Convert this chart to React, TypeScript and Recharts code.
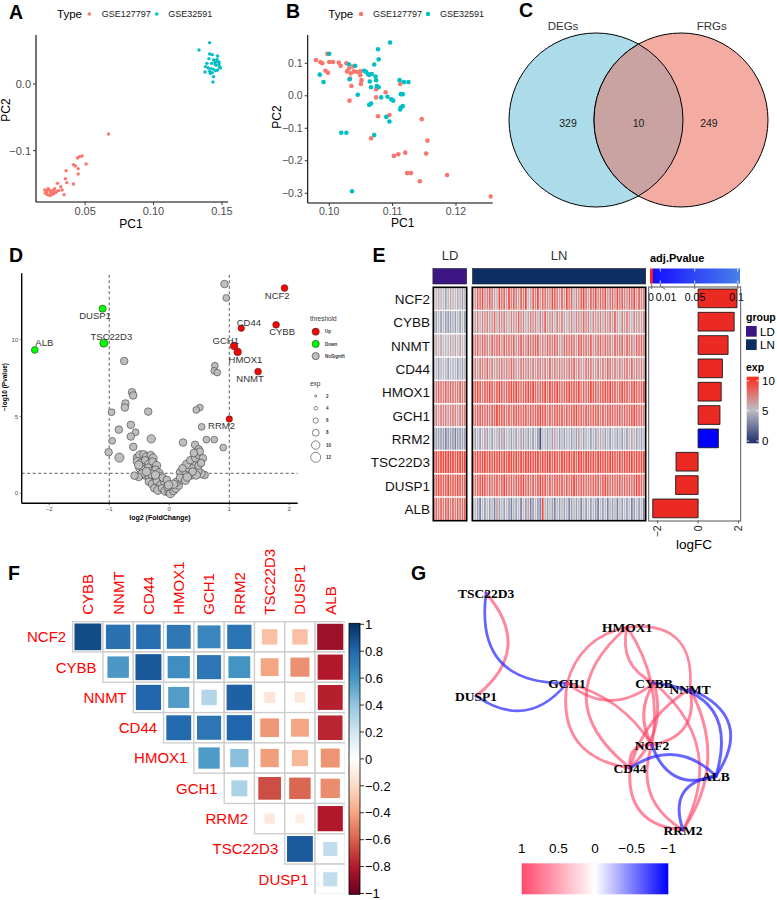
import React from 'react'
import {
  ScatterChart,
  Scatter,
  BarChart,
  Bar,
  Cell,
  XAxis,
  YAxis,
  ReferenceLine
} from 'recharts'

const FONT = 'Arial, "Liberation Sans", Helvetica, sans-serif'
const SERIF = '"Liberation Serif", "Times New Roman", Times, serif'
const MINUS = '\u2212'

/* ---------- A / B: PCA of the two cohorts ---------- */
const pcaTypes = ['GSE127797', 'GSE32591']
const pcaColors = ['#F8766D', '#00BFC4']

const pcaRaw127797 = [
  [0.0671, -0.075], [0.0459, -0.109], [0.0478, -0.108], [0.0444, -0.111], [0.0507, -0.12],
  [0.0415, -0.121], [0.0429, -0.123], [0.0449, -0.127], [0.0449, -0.135], [0.0361, -0.13],
  [0.0356, -0.142], [0.0366, -0.148], [0.0415, -0.15], [0.0298, -0.149], [0.0322, -0.154],
  [0.0332, -0.159], [0.0346, -0.166], [0.0268, -0.159], [0.0278, -0.157], [0.0244, -0.16],
  [0.0249, -0.163], [0.0259, -0.164], [0.0234, -0.158], [0.022, -0.162], [0.021, -0.164],
  [0.0215, -0.16], [0.0225, -0.166], [0.0239, -0.167], [0.0249, -0.167], [0.0268, -0.165],
  [0.0283, -0.163], [0.0293, -0.161], [0.0307, -0.16], [0.0205, -0.159], [0.0229, -0.157],
  [0.0263, -0.161]
]
const pcaRaw32591 = [
  [0.141, 0.062], [0.1332, 0.051], [0.141, 0.045], [0.1429, 0.044], [0.1468, 0.042],
  [0.1405, 0.038], [0.1439, 0.036], [0.1463, 0.034], [0.1478, 0.033], [0.1424, 0.031],
  [0.1449, 0.03], [0.1459, 0.028], [0.1483, 0.026], [0.138, 0.026], [0.14, 0.024],
  [0.142, 0.023], [0.1439, 0.022], [0.1468, 0.021], [0.1488, 0.024], [0.1376, 0.018],
  [0.141, 0.019], [0.1429, 0.017], [0.1454, 0.02], [0.1439, 0.011], [0.1415, 0.016],
  [0.1434, 0.003], [0.139, 0.031], [0.1449, 0.033], [0.1463, 0.037], [0.1478, 0.03]
]
const pcaCorr127797 = [
  [0.0979, 0.11], [0.0986, 0.104], [0.0989, 0.1], [0.0997, 0.129], [0.1, 0.104],
  [0.0994, 0.077], [0.0998, 0.071], [0.1006, 0.104], [0.1015, 0.102], [0.1018, 0.092],
  [0.1027, 0.1], [0.1028, 0.075], [0.1031, 0.084], [0.1034, 0.069], [0.1037, 0.09],
  [0.1039, 0.075], [0.1044, 0.073], [0.1033, 0.053], [0.1035, 0.03], [0.1032, -0.015],
  [0.1049, 0.075], [0.1049, 0.063], [0.1051, 0.048], [0.105, 0.036], [0.1066, -0.131],
  [0.1074, 0.02], [0.1074, -0.005], [0.1077, -0.063], [0.1089, 0.011], [0.1095, -0.059],
  [0.1112, 0.036], [0.1146, -0.072], [0.1155, -0.138], [0.1153, -0.178], [0.1102, -0.185],
  [0.1109, -0.18], [0.112, -0.175], [0.1123, -0.238], [0.1129, -0.238], [0.1143, -0.263],
  [0.1186, -0.244], [0.1255, -0.31]
]
const pcaCorr32591 = [
  [0.1, 0.129], [0.0985, 0.065], [0.0991, 0.042], [0.1031, 0.097], [0.1041, 0.092],
  [0.1032, 0.051], [0.1055, 0.077], [0.1058, 0.074], [0.1061, 0.067], [0.1063, 0.064],
  [0.1064, 0.044], [0.1067, 0.067], [0.1071, 0.096], [0.1077, 0.143], [0.1078, 0.112],
  [0.1073, 0.059], [0.1074, 0.048], [0.1075, 0.03], [0.1066, 0.026], [0.1066, -0.024],
  [0.1063, -0.028], [0.1045, 0.003], [0.1082, -0.005], [0.1078, 0.026], [0.1092, -0.003],
  [0.1096, 0.164], [0.1098, -0.011], [0.1101, -0.015], [0.1111, 0.048], [0.1118, 0.042],
  [0.1125, 0.042], [0.1113, 0.005], [0.1116, 0.005], [0.1113, -0.036], [0.1116, -0.032],
  [0.1112, -0.042], [0.109, -0.065], [0.1095, -0.079], [0.1019, -0.114], [0.1027, -0.114],
  [0.1071, -0.121], [0.1036, -0.294]
]

/* ---------- C: Venn ---------- */
const vennSets = ['DEGs', 'FRGs']
const vennCounts = ['329', '10', '249']

/* ---------- D: volcano (log2FC, -log10 P, exp) ---------- */
const volcanoNoSig = [
  [0.92, 13.6, 9], [0.95, 12.7, 8], [-0.75, 8.6, 9], [0.76, 8.3, 8], [0.75, 7.96, 8], [0.8, 7.85, 8],
  [-0.62, 6.57, 9], [-0.6, 6.36, 9], [-0.73, 5.84, 9], [-0.74, 5.57, 9], [-0.96, 5.27, 8], [-0.35, 5.31, 9],
  [0.51, 5.57, 8], [0.45, 5.42, 8], [-0.64, 4.45, 9], [-0.84, 4.14, 9], [-0.56, 3.97, 8], [-0.64, 3.69, 9],
  [0.54, 4.32, 8], [-0.95, 3.41, 8], [-0.6, 3.02, 9], [-0.3, 3.54, 10], [0.23, 3.3, 9], [0.62, 3.49, 8],
  [0.75, 3.49, 8], [0.9, 2.97, 8], [-1.01, 2.67, 9], [-0.83, 2.32, 11], [0.43, 3.15, 9], [0.49, 2.86, 9],
  [-0.54, 2.32, 9], [-0.49, 2.49, 10], [-0.43, 2.54, 9], [-0.38, 2.36, 10], [-0.31, 2.49, 9], [-0.27, 2.28, 10],
  [-0.53, 2.06, 10], [-0.47, 1.93, 11], [-0.4, 2.15, 9], [-0.34, 1.89, 10], [-0.28, 2.06, 9], [-0.21, 1.8, 10],
  [-0.49, 1.63, 10], [-0.42, 1.5, 11], [-0.35, 1.67, 9], [-0.3, 1.41, 10], [-0.23, 1.54, 9], [-0.17, 1.32, 10],
  [-0.41, 1.19, 10], [-0.34, 1.06, 9], [-0.29, 1.24, 10], [-0.22, 0.98, 9], [-0.16, 1.11, 10], [-0.34, 0.76, 9],
  [-0.28, 0.59, 10], [-0.21, 0.8, 9], [-0.14, 0.54, 10], [-0.08, 0.72, 9], [-0.25, 0.33, 9], [-0.19, 0.2, 10],
  [-0.12, 0.33, 9], [-0.07, 0.15, 10], [-0.01, 0.07, 9], [0.02, -0.02, 10], [0.07, 0.15, 9], [0.11, 0.33, 10],
  [0.16, 0.5, 9], [0.12, 0.72, 10], [0.2, 0.89, 9], [0.24, 1.15, 10], [0.18, 1.37, 9], [0.28, 1.41, 10],
  [0.32, 1.63, 9], [0.38, 1.8, 10], [0.42, 2.06, 9], [0.29, 1.89, 10], [0.35, 2.15, 9], [0.44, 2.32, 10],
  [0.49, 2.49, 9], [0.51, 2.71, 9], [0.41, 2.62, 9], [0.56, 2.28, 9], [0.59, 1.19, 9], [0.53, 1.28, 10],
  [0.47, 1.45, 11], [0.37, 1.19, 10], [0.22, 1.63, 9], [0.07, 0.59, 10], [-0.03, 0.41, 9], [-0.11, 1.02, 9],
  [-0.23, 1.19, 10], [-0.45, 1.28, 10], [-0.51, 1.06, 9], [-0.58, 1.15, 9], [-0.51, 1.84, 10], [-0.38, 1.41, 10],
  [-0.04, 0.87, 9], [-0.01, 0.54, 10], [0.18, 1.02, 9], [0.27, 0.85, 10], [0.49, 1.8, 9], [0.53, 1.97, 9],
  [0.45, 1.19, 10], [0.39, 1.41, 9], [0.3, 1.06, 10]
]

// the ten hub genes (shared by D, E, F, G)
const hubGenes = ['NCF2', 'CYBB', 'NNMT', 'CD44', 'HMOX1', 'GCH1', 'RRM2', 'TSC22D3', 'DUSP1', 'ALB']
const hubLogFC = [1.92, 1.78, 1.48, 1.2, 1.14, 1.08, 1.0, -1.09, -1.11, -2.24]
const hubLogP = [13.34, 10.95, 7.91, 10.73, 9.19, 9.58, 4.83, 9.76, 12.0, 9.32]
const hubExp = [8, 8, 8, 7.5, 9, 9, 7.5, 9.5, 8.5, 8]
const hubAdjP = [0, 0, 0, 0, 0, 0, 0.011, 0, 0, 0]

/* ---------- E: expression heatmap, one digit = exp value of one sample ---------- */
const heatLD = [
  '55655456556545', '44545444545454', '56565556565655', '55455545554545', '77877878777877',
  '77677767776777', '44444344434444', '99899999989999', '88988898889888', '88787887878788'
]
const heatLN = [
  '768796787659 786978768795 687968776987 686978576897 687968796786 978768796877',
  '667576766857 676576686756 767576866757 676567576686 757667576768 657676576667',
  '778687768778 687778678768 778867687787 668778768877 786778687768 778687768787',
  '676776867667 767687667767 676776768676 767677867667 776676768767 676776867676',
  '889878898789 878898987889 898788979889 878898889787 898878898988 789887898789',
  '878887878898 887878887887 878898878788 887878897878 878887878887 887878898787',
  '545456454554 645545456454 545415545465 454554546545 545456545455 454545654545',
  '989899898989 898998989899 989989899898 899898989989 989899898998 898989989899',
  '878898787887 898787888978 787898878788 887878987887 878887898787 887878789887',
  '454354545364 545435453546 345439545435 454534545354 545435453545 354545345453'
].map((s) => s.replace(/ /g, ''))

/* ---------- F: correlation (upper triangle) ---------- */
const corrRows = ['NCF2', 'CYBB', 'NNMT', 'CD44', 'HMOX1', 'GCH1', 'RRM2', 'TSC22D3', 'DUSP1']
const corrCols = ['CYBB', 'NNMT', 'CD44', 'HMOX1', 'GCH1', 'RRM2', 'TSC22D3', 'DUSP1', 'ALB']
const corrUpper = [
  [0.9, 0.75, 0.76, 0.72, 0.66, 0.74, -0.3, -0.3, -0.86],
  [0.58, 0.85, 0.62, 0.73, 0.6, -0.4, -0.46, -0.8],
  [0.8, 0.56, 0.3, 0.82, -0.15, -0.14, -0.78],
  [0.78, 0.73, 0.8, -0.44, -0.4, -0.76],
  [0.57, 0.42, -0.42, -0.33, -0.45],
  [0.32, -0.65, -0.58, -0.47],
  [-0.13, -0.1, -0.8],
  [0.84, 0.25],
  [0.25]
]
const corrTicks = [1, 0.8, 0.6, 0.4, 0.2, 0, -0.2, -0.4, -0.6, -0.8, -1]

/* ---------- G: correlation network ---------- */
const netNodes = ['TSC22D3', 'HMOX1', 'GCH1', 'CYBB', 'NNMT', 'DUSP1', 'NCF2', 'CD44', 'ALB', 'RRM2']
const netX = [-0.693, 0.247, -0.153, 0.427, 0.667, -0.76, 0.413, 0.267, 0.84, 0.62]
const netY = [0.936, 0.664, 0.216, 0.216, 0.168, 0.112, -0.28, -0.464, -0.528, -0.96]
const netEdges: [string, string, number][] = [
  ['TSC22D3', 'DUSP1', 0.84], ['TSC22D3', 'GCH1', -0.65], ['DUSP1', 'GCH1', -0.58],
  ['GCH1', 'HMOX1', 0.57], ['GCH1', 'CYBB', 0.73], ['GCH1', 'CD44', 0.73], ['GCH1', 'NCF2', 0.66],
  ['HMOX1', 'CD44', 0.78], ['HMOX1', 'NCF2', 0.72], ['HMOX1', 'CYBB', 0.62], ['HMOX1', 'NNMT', 0.56],
  ['CYBB', 'NCF2', 0.9], ['CYBB', 'CD44', 0.85], ['CYBB', 'RRM2', 0.6], ['NNMT', 'NCF2', 0.75],
  ['NNMT', 'CD44', 0.8], ['NNMT', 'RRM2', 0.82], ['NCF2', 'CD44', 0.76], ['NCF2', 'RRM2', 0.74],
  ['CD44', 'RRM2', 0.8], ['NCF2', 'ALB', -0.86], ['CYBB', 'ALB', -0.8], ['NNMT', 'ALB', -0.78],
  ['CD44', 'ALB', -0.76], ['ALB', 'RRM2', -0.8]
]
// edge curvature (style only)
const netBend = [
  -0.26, 0.29, 0.23, -0.15, 0.2, 0.25, -0.1, 0.3, -0.1, 0.2, -0.3, 0.15, -0.15,
  -0.2, -0.25, 0.1, -0.15, 0.3, 0.2, 0.25, 0.25, -0.3, -0.3, -0.2, 0.3
]
const netLegend = ['1', '0.5', '0', '\u22120.5', '\u22121']

/* ---------- helpers ---------- */
const rgb = (h: string) => [1, 3, 5].map((k) => parseInt(h.slice(k, k + 2), 16))
const ramp = (stops: string[], t: number) => {
  const n = stops.length - 1
  const p = Math.min(n, Math.max(0, t * n))
  const i = Math.min(n - 1, Math.floor(p))
  const a = rgb(stops[i])
  const b = rgb(stops[i + 1])
  const f = p - i
  return `rgb(${a.map((v, k) => Math.round(v + (b[k] - v) * f)).join(',')})`
}
const EXP_STOPS = ['#1f2d6b', '#bdbdc6', '#ff2a1a']
const expColor = (v: number) => ramp(EXP_STOPS, v / 10)
const CORR_STOPS = [
  '#67001F', '#B2182B', '#D6604D', '#F4A582', '#FDDBC7', '#FFFFFF',
  '#D1E5F0', '#92C5DE', '#4393C3', '#2166AC', '#053061'
]
const corrColor = (r: number) => ramp(CORR_STOPS, (r + 1) / 2)
const adjPColor = (p: number) => (p < 0.003 ? '#ec2a24' : ramp(['#0000ff', '#4a80e8'], (p - 0.01) / 0.09))
const fmt = (d: number) => (v: number) => v.toFixed(d).replace('-', MINUS)
const expRadius = (e: number) => 0.2 + 0.4 * e
const asPoints = (rows: number[][]) => rows.map(([x, y]) => ({ x, y }))

/* ---------- A / B ---------- */
function PcaChart(props: any) {
  const tick = { fontSize: props.fontSize, fill: '#4d4d4d', fontFamily: FONT }
  return (
    <ScatterChart width={props.width} height={props.height} margin={props.margin}>
      <XAxis
        type="number"
        dataKey="x"
        domain={props.xDomain}
        ticks={props.xTicks}
        tickFormatter={fmt(2)}
        height={props.xHeight}
        allowDataOverflow
        interval={0}
        axisLine={{ stroke: '#000', strokeWidth: 1.1 }}
        tickLine={{ stroke: '#333' }}
        tickSize={3}
        tick={tick}
      />
      <YAxis
        type="number"
        dataKey="y"
        domain={props.yDomain}
        ticks={props.yTicks}
        tickFormatter={fmt(1)}
        width={props.yWidth}
        allowDataOverflow
        interval={0}
        axisLine={{ stroke: '#000', strokeWidth: 1.1 }}
        tickLine={{ stroke: '#333' }}
        tickSize={3}
        tick={tick}
      />
      {props.groups.map((g: number[][], i: number) => (
        <Scatter
          key={pcaTypes[i]}
          data={asPoints(g)}
          isAnimationActive={false}
          shape={(p: any) => <circle cx={p.cx} cy={p.cy} r={props.r} fill={pcaColors[i]} />}
        />
      ))}
    </ScatterChart>
  )
}

/* ---------- C ---------- */
const VENN_W = 277
const VENN_X: [number, number] = [-1.592, 1.592]
const VENN_Y: [number, number] = [-1.207, 1.092]
const VENN_PX = VENN_W / (VENN_X[1] - VENN_X[0])
const VENN_SEP = 0.977

function VennChart() {
  const circles = vennSets.map((s, i) => ({ x: (i === 0 ? -1 : 1) * VENN_SEP / 2, y: 0, s }))
  const counts = vennCounts.map((c, i) => ({ x: (i - 1) * 0.81, y: -0.03, c }))
  const fills = ['#acdce9', '#f4aba2']
  const R = VENN_PX
  const h = Math.sqrt(R * R - (VENN_SEP * R / 2) ** 2)
  return (
    <ScatterChart width={VENN_W} height={200} margin={{ top: 0, right: 0, bottom: 0, left: 0 }}>
      <XAxis type="number" dataKey="x" domain={VENN_X} hide allowDataOverflow />
      <YAxis type="number" dataKey="y" domain={VENN_Y} hide allowDataOverflow />
      <Scatter
        data={circles}
        isAnimationActive={false}
        shape={(p: any) => (
          <circle cx={p.cx} cy={p.cy} r={R} fill={fills[vennSets.indexOf(p.payload.s)]} stroke="#000" strokeWidth={1} />
        )}
      />
      <Scatter
        data={[{ x: 0, y: 0 }]}
        isAnimationActive={false}
        shape={(p: any) => (
          <path
            d={`M${p.cx},${p.cy - h} A${R},${R} 0 0 1 ${p.cx},${p.cy + h} A${R},${R} 0 0 1 ${p.cx},${p.cy - h} Z`}
            fill="#c9a3a1"
            stroke="#000"
            strokeWidth={1}
          />
        )}
      />
      <Scatter
        data={counts}
        isAnimationActive={false}
        shape={(p: any) => (
          <text x={p.cx} y={p.cy} textAnchor="middle" dominantBaseline="central" fontSize={10.5} fill="#222" fontFamily={FONT}>
            {p.payload.c}
          </text>
        )}
      />
    </ScatterChart>
  )
}

/* ---------- D ---------- */
const volcanoLabelOffset: Record<string, [number, number]> = {
  ALB: [9.5, -7], DUSP1: [-7.6, 7], TSC22D3: [7.6, -6.6], CD44: [7.6, -6], GCH1: [-8.3, -5.7],
  HMOX1: [7.8, 7.3], NNMT: [-8, 7.3], RRM2: [-7.7, 7], NCF2: [-7.3, 7.3], CYBB: [6, 6.7]
}

function VolcanoChart() {
  const ns = volcanoNoSig.map(([x, y, exp]) => ({ x, y, exp }))
  const hubs = hubGenes.map((g, i) => ({ x: hubLogFC[i], y: hubLogP[i], exp: hubExp[i], gene: g }))
  const tick = { fontSize: 6, fill: '#4d4d4d', fontFamily: FONT }
  const dash = { stroke: '#333', strokeDasharray: '3 2.5', strokeWidth: 0.8 }
  return (
    <ScatterChart width={300} height={275} margin={{ top: 23.3, right: 2.3, bottom: 0, left: 0 }}>
      <XAxis
        type="number"
        dataKey="x"
        domain={[-2.458, 2.14]}
        ticks={[-2, -1, 0, 1, 2]}
        tickFormatter={fmt(0)}
        height={21.7}
        allowDataOverflow
        interval={0}
        axisLine={{ stroke: '#000', strokeWidth: 1.4 }}
        tickLine={{ stroke: '#333', strokeWidth: 0.6 }}
        tickSize={2}
        tickMargin={1.5}
        tick={tick}
      />
      <YAxis
        type="number"
        dataKey="y"
        domain={[-0.65, 14.3]}
        ticks={[0, 5, 10]}
        tickFormatter={fmt(0)}
        width={21.7}
        allowDataOverflow
        interval={0}
        axisLine={{ stroke: '#000', strokeWidth: 1.4 }}
        tickLine={{ stroke: '#333', strokeWidth: 0.6 }}
        tickSize={2}
        tickMargin={1.5}
        tick={tick}
      />
      <ReferenceLine x={-1} {...dash} />
      <ReferenceLine x={1} {...dash} />
      <ReferenceLine y={-Math.log10(0.05)} {...dash} />
      <Scatter
        data={ns}
        isAnimationActive={false}
        shape={(p: any) => (
          <circle cx={p.cx} cy={p.cy} r={expRadius(p.payload.exp)} fill="#BEBEBE" stroke="#3a3a3a" strokeWidth={0.6} />
        )}
      />
      <Scatter
        data={hubs}
        isAnimationActive={false}
        shape={(p: any) => {
          const [dx, dy] = volcanoLabelOffset[p.payload.gene]
          return (
            <g>
              <circle
                cx={p.cx}
                cy={p.cy}
                r={expRadius(p.payload.exp)}
                fill={p.payload.x > 0 ? '#FF0000' : '#00FF00'}
                stroke="#333"
                strokeWidth={0.6}
              />
              <text x={p.cx + dx} y={p.cy + dy} textAnchor="middle" dominantBaseline="central" fontSize={9.5} fill="#333" fontFamily={FONT}>
                {p.payload.gene}
              </text>
            </g>
          )
        }}
      />
    </ScatterChart>
  )
}

/* ---------- E ---------- */
const HEAT_TOP = 287.3
const HEAT_H = 233.4
const ROW_H = HEAT_H / hubGenes.length

function HeatBlock({ rows, width }: { rows: string[]; width: number }) {
  const n = Math.min(...rows.map((r) => r.length))
  const columns = Array.from({ length: n }, (_, c) =>
    Object.fromEntries([['col', c], ...hubGenes.map((g) => [g, 1])])
  )
  const band = width / n
  const order = hubGenes.map((_, i) => i).reverse()
  return (
    <BarChart width={width} height={HEAT_H} data={columns} margin={{ top: 0, right: 0, bottom: 0, left: 0 }} barGap={0}>
      <XAxis dataKey="col" hide />
      <YAxis type="number" domain={[0, hubGenes.length]} hide allowDataOverflow />
      {order.map((ri) => (
        <Bar key={hubGenes[ri]} dataKey={hubGenes[ri]} stackId="heat" barSize={band * 0.74} isAnimationActive={false}>
          {columns.map((_, c) => (
            <Cell key={c} fill={expColor(Number(rows[ri][c]))} />
          ))}
        </Bar>
      ))}
      {hubGenes.slice(1).map((g, i) => (
        <ReferenceLine key={g} y={i + 1} stroke="#fff" strokeWidth={1.4} />
      ))}
    </BarChart>
  )
}

function LogFCChart() {
  const data = hubGenes.map((g, i) => ({ gene: g, fc: hubLogFC[i] }))
  return (
    <BarChart layout="vertical" width={102} height={HEAT_H + 30} data={data} margin={{ top: 0, right: 10, bottom: 0, left: 0 }}>
      <XAxis
        type="number"
        dataKey="fc"
        domain={[-2.426, 2.119]}
        ticks={[-2, 0, 2]}
        height={30}
        allowDataOverflow
        interval={0}
        axisLine={false}
        tickLine={false}
        tickSize={0}
        tickMargin={0}
        tick={(p: any) => (
          <g transform={`translate(${p.x},${p.y})`}>
            <line x1={0} x2={0} y1={0} y2={3} stroke="#333" strokeWidth={0.8} />
            <text transform="rotate(-90)" x={-5} y={0} dy="0.35em" textAnchor="end" fontSize={10.5} fill="#222" fontFamily={FONT}>
              {fmt(0)(p.payload.value)}
            </text>
          </g>
        )}
      />
      <YAxis type="category" dataKey="gene" hide />
      <Bar dataKey="fc" barSize={18.7} stroke="#1a1a1a" strokeWidth={0.9} isAnimationActive={false}>
        {hubGenes.map((g, i) => (
          <Cell key={g} fill={adjPColor(hubAdjP[i])} />
        ))}
      </Bar>
    </BarChart>
  )
}

/* ---------- F ---------- */
const CORR_W = 272.7
const CORR_HEAD = 81.7
const CELL = CORR_W / corrCols.length

function CorrChart() {
  const cells = corrUpper.flatMap((row, i) => row.map((r, k) => ({ x: i + k, y: i, r })))
  const labels = corrRows.map((g, i) => ({ x: i, y: i, g }))
  return (
    <ScatterChart width={72.7 + CORR_W} height={CORR_HEAD + CORR_W} margin={{ top: 0, right: 0, bottom: 0, left: 72.7 }}>
      <XAxis
        type="number"
        dataKey="x"
        orientation="top"
        domain={[-0.5, corrCols.length - 0.5]}
        ticks={corrCols.map((_, i) => i)}
        interval={0}
        height={CORR_HEAD}
        axisLine={false}
        tickLine={false}
        tickSize={0}
        tickMargin={0}
        tick={(p: any) => (
          <g transform={`translate(${p.x},${p.y - 7})`}>
            <text transform="rotate(-90)" x={0} y={0} dy="0.36em" textAnchor="start" fontSize={15} fill="#ff0000" fontFamily={FONT}>
              {corrCols[p.payload.value]}
            </text>
          </g>
        )}
      />
      <YAxis type="number" dataKey="y" domain={[-0.5, corrRows.length - 0.5]} reversed hide />
      <Scatter
        data={cells}
        isAnimationActive={false}
        shape={(p: any) => {
          const r = p.payload.r
          const s = CELL * 0.93 * Math.sqrt(Math.abs(r))
          return (
            <g>
              <rect x={p.cx - CELL / 2} y={p.cy - CELL / 2} width={CELL} height={CELL} fill="#fff" stroke="#cccccc" strokeWidth={1.3} />
              <rect x={p.cx - s / 2} y={p.cy - s / 2} width={s} height={s} fill={corrColor(r)} />
            </g>
          )
        }}
      />
      <Scatter
        data={labels}
        isAnimationActive={false}
        shape={(p: any) => (
          <text x={p.cx - CELL / 2 - 6.5} y={p.cy} dy="0.36em" textAnchor="end" fontSize={15} fill="#ff0000" fontFamily={FONT}>
            {p.payload.g}
          </text>
        )}
      />
    </ScatterChart>
  )
}

/* ---------- G ---------- */
function NetworkChart() {
  const pos = (g: string) => {
    const i = netNodes.indexOf(g)
    return { x: netX[i], y: netY[i] }
  }
  const nodes = netNodes.map((g, i) => ({ x: netX[i], y: netY[i], g }))
  return (
    <ScatterChart width={377} height={270} margin={{ top: 0, right: 0, bottom: 0, left: 0 }}>
      <XAxis type="number" dataKey="x" domain={[-1.2667, 1.2467]} hide allowDataOverflow />
      <YAxis type="number" dataKey="y" domain={[-1.08, 1.08]} hide allowDataOverflow />
      {netEdges.map(([a, b, r], k) => (
        <Scatter
          key={`${a}-${b}`}
          data={[pos(a), pos(b)]}
          isAnimationActive={false}
          shape={() => <g />}
          lineType="joint"
          line={(lp: any) => {
            const [p0, p1] = lp.points
            const dx = p1.x - p0.x
            const dy = p1.y - p0.y
            const bend = netBend[k] * 2
            const qx = (p0.x + p1.x) / 2 - dy * bend
            const qy = (p0.y + p1.y) / 2 + dx * bend
            return (
              <path
                d={`M${p0.x},${p0.y} Q${qx},${qy} ${p1.x},${p1.y}`}
                fill="none"
                stroke={r > 0 ? '#ff3d63' : '#2a2aff'}
                strokeOpacity={r > 0 ? 0.62 : 0.72}
                strokeWidth={2 + Math.abs(r) * 1.2}
                strokeLinecap="round"
              />
            )
          }}
        />
      ))}
      <Scatter
        data={nodes}
        isAnimationActive={false}
        shape={(p: any) => (
          <text x={p.cx} y={p.cy} dy="0.36em" textAnchor="middle" fontSize={13.5} fontWeight="bold" fill="#000" fontFamily={SERIF}>
            {p.payload.g}
          </text>
        )}
      />
    </ScatterChart>
  )
}

/* ---------- text, legends and colour bars ---------- */
function Overlay() {
  const pv = (v: number) => 651.7 + v * 860
  const corrY = (v: number) => 624.3 + ((1 - v) / 2) * 269.2
  const letters: [string, number, number][] = [
    ['A', 9, 18.5], ['B', 286, 17.5], ['C', 519, 17], ['D', 9, 262], ['E', 372.5, 262], ['F', 8, 579.5], ['G', 411, 580]
  ]
  const legendExp = [2, 4, 6, 8, 10, 12]
  const corrTopDown = [...CORR_STOPS].reverse()
  return (
    <svg width={777} height={900} style={{ position: 'absolute', left: 0, top: 0, pointerEvents: 'none' }} fontFamily={FONT}>
      <defs>
        <linearGradient id="pvGrad" x1="0" x2="1" y1="0" y2="0">
          <stop offset="0" stopColor="#ff2020" />
          <stop offset="0.025" stopColor="#ff2020" />
          <stop offset="0.04" stopColor="#1010ff" />
          <stop offset="0.12" stopColor="#1a1aff" />
          <stop offset="1" stopColor="#4a80e8" />
        </linearGradient>
        <linearGradient id="expGrad" x1="0" x2="0" y1="0" y2="1">
          {[...EXP_STOPS].reverse().map((c, i) => (
            <stop key={c} offset={i / 2} stopColor={c} />
          ))}
        </linearGradient>
        <linearGradient id="corrGrad" x1="0" x2="0" y1="0" y2="1">
          {corrTopDown.map((c, i) => (
            <stop key={c} offset={i / (corrTopDown.length - 1)} stopColor={c} />
          ))}
        </linearGradient>
        <linearGradient id="netGrad" x1="0" x2="1" y1="0" y2="0">
          <stop offset="0" stopColor="#ff4a6b" />
          <stop offset="0.5" stopColor="#ffffff" />
          <stop offset="1" stopColor="#0000ff" />
        </linearGradient>
      </defs>

      {letters.map(([l, x, y]) => (
        <text key={l} x={x} y={y} fontSize={19.5} fontWeight="bold" fill="#000">{l}</text>
      ))}

      {/* A / B legends and titles */}
      {[[57, 89.3, 101.7, 156.7, 168.3], [328.3, 361, 373, 428, 440]].map(([t, d1, s1, d2, s2], k) => (
        <g key={k}>
          <text x={t} y={18} fontSize={11.5} fill="#000">Type</text>
          <circle cx={d1} cy={14} r={k ? 2.2 : 1.8} fill={pcaColors[0]} />
          <text x={s1} y={17.2} fontSize={9} fill="#1a1a1a">{pcaTypes[0]}</text>
          <circle cx={d2} cy={14} r={k ? 2.2 : 1.8} fill={pcaColors[1]} />
          <text x={s2} y={17.2} fontSize={9} fill="#1a1a1a">{pcaTypes[1]}</text>
        </g>
      ))}
      <text x={131} y={228} fontSize={12} textAnchor="middle">PC1</text>
      <text transform="translate(9.5,110) rotate(-90)" fontSize={12} textAnchor="middle">PC2</text>
      <text x={402.7} y={227} fontSize={12} textAnchor="middle">PC1</text>
      <text transform="translate(280.5,117) rotate(-90)" fontSize={12} textAnchor="middle">PC2</text>

      {/* C set names */}
      <text x={563} y={30} fontSize={11.5} textAnchor="middle" fill="#333">{vennSets[0]}</text>
      <text x={711.7} y={30} fontSize={11.5} textAnchor="middle" fill="#333">{vennSets[1]}</text>

      {/* D titles + legend */}
      <text x={160} y={520} fontSize={7} fontWeight="bold" textAnchor="middle">log2 (FoldChange)</text>
      <text transform="translate(7,387) rotate(-90)" fontSize={6.5} fontWeight="bold" textAnchor="middle">{`${MINUS}log10 (Pvalue)`}</text>
      <text x={310} y={321} fontSize={6.5} fill="#333">threshold</text>
      {[['Up', '#FF0000'], ['Down', '#00FF00'], ['NoSignifi', '#BEBEBE']].map(([l, c], i) => (
        <g key={l}>
          <circle cx={315.7} cy={331.7 + i * 12.2} r={3.6} fill={c} stroke="#333" strokeWidth={0.6} />
          <text x={325} y={333.3 + i * 12.2} fontSize={4.5} fontWeight="bold" fill="#333">{l}</text>
        </g>
      ))}
      <text x={310} y={385.5} fontSize={6.5} fill="#333">exp</text>
      {legendExp.map((e, i) => (
        <g key={e}>
          <circle cx={315.7} cy={396 + i * 12.26} r={expRadius(e)} fill="#fff" stroke="#333" strokeWidth={0.6} />
          <text x={326} y={397.6 + i * 12.26} fontSize={4.5} fontWeight="bold" fill="#333">{e}</text>
        </g>
      ))}

      {/* E annotations */}
      <text x={450} y={260} fontSize={13} textAnchor="middle" fill="#333">LD</text>
      <text x={559} y={260} fontSize={13} textAnchor="middle" fill="#333">LN</text>
      <rect x={432.9} y={268.5} width={33.8} height={15.5} fill="#3d1684" stroke="#222" strokeWidth={0.6} />
      <rect x={472.5} y={268.5} width={173.2} height={15.5} fill="#0d2e63" stroke="#222" strokeWidth={0.6} />
      <rect x={433.3} y={HEAT_TOP} width={33.4} height={HEAT_H} fill="none" stroke="#000" strokeWidth={1.6} />
      <rect x={472.3} y={HEAT_TOP} width={173.4} height={HEAT_H} fill="none" stroke="#000" strokeWidth={1.6} />
      {hubGenes.map((g, i) => (
        <text key={g} x={430} y={HEAT_TOP + (i + 0.5) * ROW_H} dy="0.36em" fontSize={13.5} textAnchor="end" fill="#111">{g}</text>
      ))}
      <text x={650} y={262} fontSize={11} fontWeight="bold">adj.Pvalue</text>
      <rect x={650} y={268.5} width={90} height={15} fill="url(#pvGrad)" />
      {[0.01, 0.05, 0.1].map((v) => (
        <g key={v}>
          <line x1={pv(v)} x2={pv(v)} y1={268.5} y2={271.5} stroke="#fff" strokeWidth={0.8} />
          <line x1={pv(v)} x2={pv(v)} y1={280.5} y2={283.5} stroke="#fff" strokeWidth={0.8} />
        </g>
      ))}
      <polyline points={`${pv(0)},283.5 ${pv(0)},289`} fill="none" stroke="#333" strokeWidth={0.7} />
      <polyline points={`${pv(0.01)},283.5 ${pv(0.01)},286 665.5,289.5`} fill="none" stroke="#333" strokeWidth={0.7} />
      <polyline points={`${pv(0.05)},283.5 ${pv(0.05)},289`} fill="none" stroke="#333" strokeWidth={0.7} />
      <polyline points={`${pv(0.1)},283.5 ${pv(0.1)},289`} fill="none" stroke="#333" strokeWidth={0.7} />
      {[['0', 650.8], ['0.01', 666], ['0.05', 695], ['0.1', 736.5]].map(([t, x]) => (
        <text key={t} x={x} y={300.5} fontSize={10.5} textAnchor="middle">{t}</text>
      ))}
      <rect x={648.7} y={287} width={92} height={234} fill="none" stroke="#555" strokeWidth={1} />
      <text x={694} y={548.5} fontSize={13.5} textAnchor="middle">logFC</text>
      <text x={746} y={320.5} fontSize={10.5} fontWeight="bold">group</text>
      <rect x={746} y={326} width={10.7} height={10.7} fill="#3d1684" />
      <text x={760} y={335.5} fontSize={11.5}>LD</text>
      <rect x={746} y={339.3} width={10.7} height={10.7} fill="#0d2e63" />
      <text x={760} y={349} fontSize={11.5}>LN</text>
      <text x={746} y={371} fontSize={10.5} fontWeight="bold">exp</text>
      <rect x={746.7} y={376.7} width={12} height={66.6} fill="url(#expGrad)" />
      {[[10, 380.7], [5, 410.8], [0, 441]].map(([v, y]) => (
        <g key={v}>
          <line x1={746.7} x2={749.2} y1={y} y2={y} stroke="#fff" strokeWidth={0.8} />
          <line x1={756.2} x2={758.7} y1={y} y2={y} stroke="#fff" strokeWidth={0.8} />
          <text x={762} y={y} dy="0.36em" fontSize={11.5}>{v}</text>
        </g>
      ))}

      {/* F colour bar */}
      <rect x={349} y={623.3} width={11} height={271} fill="url(#corrGrad)" stroke="#000" strokeWidth={0.8} />
      {corrTicks.map((v) => (
        <g key={v}>
          <line x1={360} x2={364} y1={corrY(v)} y2={corrY(v)} stroke="#000" strokeWidth={0.8} />
          <text x={365} y={corrY(v)} dy="0.36em" fontSize={13}>{fmt(v === 0 || Math.abs(v) === 1 ? 0 : 1)(v)}</text>
        </g>
      ))}

      {/* G legend */}
      {netLegend.map((t, i) => (
        <text key={t} x={521.7 + i * 36.65} y={853} fontSize={13.5} textAnchor="middle">{t}</text>
      ))}
      <rect x={521.7} y={863.3} width={146.6} height={31} fill="url(#netGrad)" />
    </svg>
  )
}

const place = (left: number, top: number): React.CSSProperties => ({ position: 'absolute', left, top })

export default function App() {
  return (
    <div
      style={{
        position: 'absolute',
        left: 0,
        top: 0,
        width: 777,
        height: 900,
        overflow: 'hidden',
        background: '#fff',
        fontFamily: FONT
      }}
    >
      <div style={place(0, 0)}>
        <PcaChart
          groups={[pcaRaw127797, pcaRaw32591]}
          width={240}
          height={240}
          margin={{ top: 35, right: 12, bottom: 0, left: 0 }}
          yWidth={36}
          xHeight={38}
          xDomain={[0.0141, 0.1544]}
          yDomain={[-0.177, 0.0735]}
          xTicks={[0.05, 0.1, 0.15]}
          yTicks={[-0.1, 0]}
          r={1.7}
          fontSize={11}
        />
      </div>
      <div style={place(250, 0)}>
        <PcaChart
          groups={[pcaCorr127797, pcaCorr32591]}
          width={250}
          height={240}
          margin={{ top: 35, right: 7.3, bottom: 0, left: 0 }}
          yWidth={57.7}
          xHeight={37}
          xDomain={[0.0966, 0.1258]}
          yDomain={[-0.33, 0.187]}
          xTicks={[0.1, 0.11, 0.12]}
          yTicks={[-0.3, -0.2, -0.1, 0, 0.1]}
          r={2.3}
          fontSize={10.5}
        />
      </div>
      <div style={place(500, 25)}>
        <VennChart />
      </div>
      <div style={place(0, 250)}>
        <VolcanoChart />
      </div>
      <div style={place(433.3, HEAT_TOP)}>
        <HeatBlock rows={heatLD} width={33.4} />
      </div>
      <div style={place(472.3, HEAT_TOP)}>
        <HeatBlock rows={heatLN} width={173.4} />
      </div>
      <div style={place(648.7, 287)}>
        <LogFCChart />
      </div>
      <div style={place(0, 621.7 - CORR_HEAD)}>
        <CorrChart />
      </div>
      <div style={place(400, 575)}>
        <NetworkChart />
      </div>
      <Overlay />
    </div>
  )
}
